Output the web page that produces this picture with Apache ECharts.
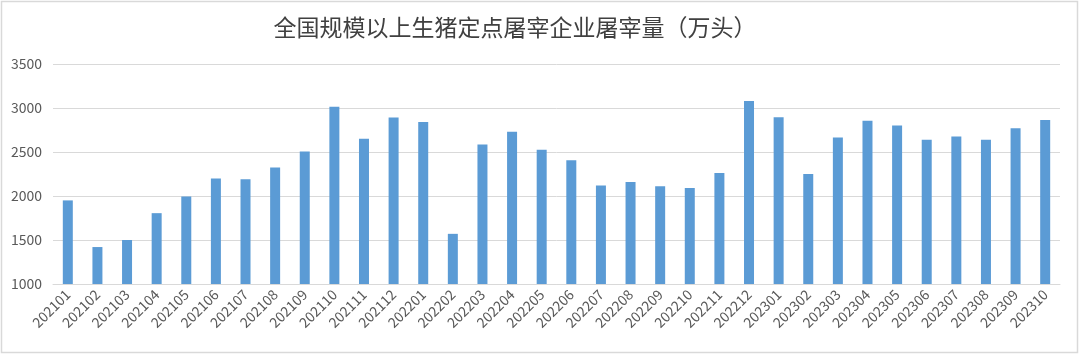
<!DOCTYPE html>
<html>
<head>
<meta charset="utf-8">
<script src="https://cdn.jsdelivr.net/npm/echarts@6/dist/echarts.min.js"></script>
<style>
  html, body { margin: 0; padding: 0; background: #fff; }
  #chart { width: 1080px; height: 355px; }
</style>
</head>
<body>
<div id="chart"></div>
<script>
// months 2021-01 .. 2023-10
const months = [
  '202101', '202102', '202103', '202104', '202105', '202106', '202107', '202108', '202109', '202110', '202111', '202112',
  '202201', '202202', '202203', '202204', '202205', '202206', '202207', '202208', '202209', '202210', '202211', '202212',
  '202301', '202302', '202303', '202304', '202305', '202306', '202307', '202308', '202309', '202310'
]
// 屠宰量（万头）
const slaughter = [
  1950, 1420, 1500, 1805, 1995, 2200, 2190, 2325, 2505, 3015, 2650, 2893,
  2840, 1570, 2585, 2730, 2525, 2405, 2120, 2160, 2110, 2090, 2260, 3080,
  2895, 2250, 2665, 2855, 2800, 2640, 2675, 2640, 2770, 2865
]

const chart = echarts.init(document.getElementById('chart'))
chart.setOption({
  animation: false,
  backgroundColor: '#fff',
  textStyle: { fontFamily: '"Noto Sans CJK SC", "Noto Sans", sans-serif' },
  title: {
    text: '全国规模以上生猪定点屠宰企业屠宰量（万头）',
    left: 510,
    top: 11,
    textAlign: 'center',
    textStyle: { fontSize: 23, fontWeight: 'normal', color: '#404040', fontFamily: '"Noto Sans CJK SC", sans-serif' }
  },
  graphic: [{
    type: 'rect',
    shape: { x: 1.5, y: 1.5, width: 1076, height: 351 },
    style: { fill: 'none', stroke: '#d9d9d9', lineWidth: 1.5 },
    silent: true
  }],
  grid: { left: 53, right: 20, top: 64, bottom: 71 },
  xAxis: {
    type: 'category',
    data: months,
    axisLine: { lineStyle: { color: '#d9d9d9' } },
    axisTick: { show: false },
    axisLabel: { rotate: 45, color: '#595959', fontSize: 14, interval: 0, margin: 8 }
  },
  yAxis: {
    type: 'value',
    min: 1000,
    max: 3500,
    interval: 500,
    axisLine: { show: false },
    axisTick: { show: false },
    axisLabel: { color: '#595959', fontSize: 14, margin: 11, formatter: v => String(v) },
    splitLine: { lineStyle: { color: '#d9d9d9' } }
  },
  series: [{
    type: 'bar',
    data: slaughter,
    barWidth: 10,
    itemStyle: { color: '#5b9bd5' }
  }]
})
</script>
</body>
</html>
